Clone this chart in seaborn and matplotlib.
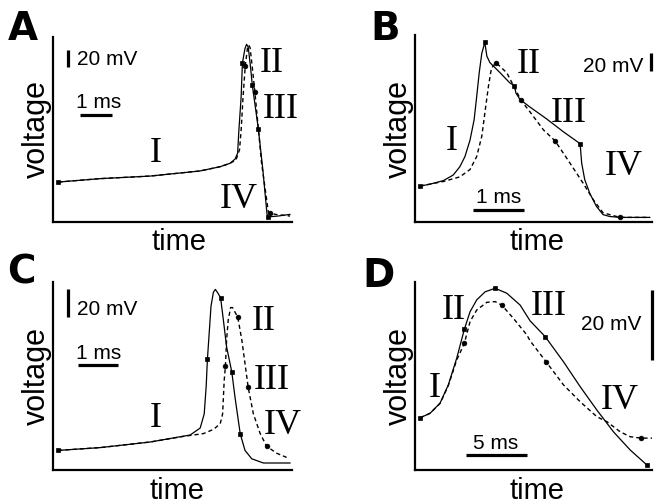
import matplotlib
matplotlib.use("Agg")
import matplotlib.pyplot as plt
import seaborn as sns

# Figure size in pixels (saved at dpi 100)
W, H = 659, 504

# ---- Panel A: time in ms, voltage in mV above the axis floor
A_t_solid = [0.17, 1.47, 3.03, 4.59, 5.22, 5.53, 5.69, 5.77, 5.81, 5.88, 5.92,
             6.00, 6.05, 6.10, 6.16, 6.23, 6.42, 6.56, 6.69, 6.72, 7.03, 7.41]
A_v_solid = [47, 51, 54, 60, 65, 69, 74, 81, 108, 147, 187,
             204, 209, 206, 187, 161, 109, 61, 9, 6, 7, 9]
A_sq = [0, 10, 15, 16, 19]
A_t_dash = [0.17, 1.47, 3.03, 4.59, 5.22, 5.53, 5.72, 5.83, 5.88, 5.94, 6.01,
            6.08, 6.12, 6.16, 6.22, 6.31, 6.52, 6.73, 6.78, 6.94, 7.41]
A_v_dash = [47, 51, 54, 60, 65, 69, 73, 85, 108, 147, 184,
            205, 208, 205, 185, 153, 69, 12, 11, 9, 7]
A_ci = [10, 15, 18]

# ---- Panel B
B_t_solid = [0.10, 0.29, 0.56, 0.75, 0.88, 0.98, 1.08, 1.16, 1.21, 1.26, 1.31,
             1.37, 1.41, 1.47, 1.67, 1.86, 1.95, 1.98, 2.06, 2.25, 2.58, 2.91,
             3.24, 3.27, 3.33, 3.43, 3.56, 3.69, 3.82, 4.02, 4.61]
B_v_solid = [39, 41, 45, 51, 60, 71, 89, 111, 136, 162, 183,
             195, 180, 173, 162, 151, 148, 140, 133, 125, 112, 98,
             85, 64, 46, 31, 17, 8, 6, 5, 5]
B_sq = [0, 11, 16, 22]
B_t_dash = [0.10, 0.56, 0.88, 1.08, 1.21, 1.31, 1.37, 1.44, 1.50, 1.59, 1.80,
            1.99, 2.08, 2.25, 2.52, 2.75, 3.04, 3.30, 3.50, 3.69, 4.02, 4.61]
B_v_dash = [39, 44, 49, 57, 71, 93, 118, 147, 167, 173, 162,
            142, 132, 120, 100, 88, 64, 42, 24, 10, 5, 5]
B_ci = [9, 12, 15, 20]

# ---- Panel C
C_t_solid = [0.13, 1.18, 2.43, 3.43, 3.68, 3.78, 3.83, 3.86, 3.91, 3.95, 4.01,
             4.06, 4.13, 4.19, 4.26, 4.34, 4.47, 4.55, 4.68, 4.80, 4.97, 5.26, 5.93]
C_v_solid = [14, 16, 20, 25, 30, 40, 60, 79, 100, 117, 127,
             129, 126, 123, 107, 88, 70, 52, 26, 14, 8, 5, 5]
C_sq = [0, 7, 13, 16, 18]
C_t_dash = [0.13, 1.18, 2.43, 3.26, 3.76, 4.01, 4.18, 4.24, 4.28, 4.31, 4.34,
            4.38, 4.44, 4.49, 4.62, 4.72, 4.80, 4.88, 5.01, 5.18, 5.34, 5.59, 5.84]
C_v_dash = [14, 16, 20, 24, 26, 29, 33, 40, 64, 74, 93,
            107, 116, 116, 109, 93, 76, 59, 40, 26, 17, 12, 9]
C_ci = [9, 14, 17, 20]

# ---- Panel D
D_t_solid = [0.41, 1.24, 2.06, 2.74, 3.43, 4.06, 4.53, 5.08, 5.77, 6.59,
             7.55, 8.65, 9.47, 10.71, 12.22, 13.59, 14.97, 16.33, 17.71, 19.09]
D_v_solid = [14.9, 16.2, 19.1, 24.3, 31.9, 40.2, 45.2, 48.6, 50.9, 51.9,
             50.5, 47.1, 42.6, 38.1, 30.9, 23.8, 17.1, 10.9, 5.7, 1.4]
D_sq = [0, 5, 9, 13, 19]
D_t_dash = [0.41, 1.24, 2.06, 2.74, 3.43, 4.06, 4.53, 5.08, 5.91, 6.59, 7.14,
            8.10, 9.20, 9.47, 10.79, 12.22, 13.59, 14.97, 15.79, 16.89, 17.71,
            18.62, 19.50]
D_v_dash = [14.9, 16.2, 19.0, 24.1, 31.4, 36.2, 42.4, 45.7, 47.9, 48.1, 47.1,
            43.3, 38.6, 36.9, 30.9, 24.3, 19.5, 15.2, 13.8, 10.9, 9.5, 9.1, 9.1]
D_ci = [5, 10, 14, 21]

NUMERALS = ["I", "II", "III", "IV"]


def px_text(fig, x, y, s, **kw):
    """Place text using pixel coordinates measured from the top-left."""
    kw.setdefault("color", "black")
    fig.text(x / W, 1 - y / H, s, **kw)


def draw_panel(fig, p):
    x0, y0, x1, y1 = p["rect"]
    ax = fig.add_axes([x0 / W, 1 - y1 / H, (x1 - x0) / W, (y1 - y0) / H])

    t, v, sq = p["solid"]
    sns.lineplot(x=t, y=v, ax=ax, color="black", linewidth=0.9, sort=False,
                 errorbar=None, marker="s", markersize=3.4, markevery=sq,
                 markeredgecolor="black", markeredgewidth=0.5, clip_on=False)
    t, v, ci = p["dash"]
    sns.lineplot(x=t, y=v, ax=ax, color="black", linewidth=1.0, sort=False,
                 errorbar=None, linestyle=(0, (3.0, 2.2)), marker="o",
                 markersize=3.4, markevery=ci, markeredgecolor="black",
                 markeredgewidth=0.5, clip_on=False)

    ax.set_xlim(*p["xlim"])
    ax.set_ylim(*p["ylim"])
    ax.set_xticks([])
    ax.set_yticks([])
    ax.set_xlabel("")
    ax.set_ylabel("")
    sns.despine(ax=ax)
    for side in ["left", "bottom"]:
        ax.spines[side].set_linewidth(1.6)
        ax.spines[side].set_color("black")

    # scale bars (in data units: ms and mV)
    ta, tb, tv = p["tbar"]
    ax.plot([ta, tb], [tv, tv], color="black", lw=2.3, clip_on=False,
            solid_capstyle="butt")
    vt, va, vb = p["vbar"]
    ax.plot([vt, vt], [va, vb], color="black", lw=2.3, clip_on=False,
            solid_capstyle="butt")

    # texts
    lx, ly = p["letter"]
    px_text(fig, lx, ly, p["key"], ha="center", va="baseline",
            fontsize=28, fontweight="bold", family="DejaVu Sans")
    for s, (nx, ny) in zip(NUMERALS, p["numerals"]):
        px_text(fig, nx, ny, s, ha="center", va="baseline", fontsize=26,
                family="Liberation Serif")
    sx, sy, sha = p["mv_text"]
    px_text(fig, sx, sy, "20 mV", ha=sha, va="baseline", fontsize=15)
    mx, my = p["ms_text"]
    px_text(fig, mx, my, p["ms_label"], ha="center", va="baseline", fontsize=15)
    tx, ty = p["time_pos"]
    px_text(fig, tx, ty, "time", ha="center", va="baseline", fontsize=21)
    vx = p["volt_x"]
    px_text(fig, vx, (y0 + y1) / 2, "voltage", ha="center", va="center",
            rotation=90, fontsize=22)


def main():
    sns.set_style("white")
    plt.rcParams["font.family"] = ["Liberation Sans", "DejaVu Sans"]
    plt.rcParams["text.color"] = "black"

    fig = plt.figure(figsize=(W / 100, H / 100), dpi=100)

    panels = [
        dict(key="A", rect=(53, 37, 292, 222),
             solid=(A_t_solid, A_v_solid, A_sq), dash=(A_t_dash, A_v_dash, A_ci),
             xlim=(0, 7.47), ylim=(0, 217.6),
             tbar=(0.84, 1.84, 125.9), vbar=(0.48, 182.4, 202.4),
             letter=(22.5, 40),
             numerals=[(155.7, 161.7), (271.7, 71.7), (280.7, 118.3), (239, 208.3)],
             mv_text=(77, 65, "left"), ms_text=(98.5, 108.3), ms_label="1 ms",
             time_pos=(179, 250), volt_x=37),
        dict(key="B", rect=(415, 35, 652, 222),
             solid=(B_t_solid, B_v_solid, B_sq), dash=(B_t_dash, B_v_dash, B_ci),
             xlim=(0, 4.65), ylim=(0, 203),
             tbar=(1.14, 2.14, 13), vbar=(4.64, 163.4, 183.4),
             letter=(385, 40),
             numerals=[(451.7, 150), (528.3, 73.3), (568.3, 121.7), (623.3, 175)],
             mv_text=(643, 71.7, "right"), ms_text=(498.8, 203.3), ms_label="1 ms",
             time_pos=(537.5, 250), volt_x=399),
        dict(key="C", rect=(53, 282, 292, 470),
             solid=(C_t_solid, C_v_solid, C_sq), dash=(C_t_dash, C_v_dash, C_ci),
             xlim=(0, 5.975), ylim=(0, 134.3),
             tbar=(0.63, 1.63, 74.8), vbar=(0.38, 109.3, 129.3),
             letter=(21, 283.7),
             numerals=[(155.7, 427), (264, 330.3), (271.7, 388.7), (282.7, 433.7)],
             mv_text=(77.3, 315.3, "left"), ms_text=(99, 358.7), ms_label="1 ms",
             time_pos=(177.5, 498.7), volt_x=37),
        dict(key="D", rect=(415, 282, 652, 470),
             solid=(D_t_solid, D_v_solid, D_sq), dash=(D_t_dash, D_v_dash, D_ci),
             xlim=(0, 19.5), ylim=(0, 53.7),
             tbar=(4.2, 9.2, 4.4), vbar=(19.5, 31.3, 51.3),
             letter=(379, 287),
             numerals=[(435, 397), (454, 318.7), (548.3, 315.3), (619.3, 408.7)],
             mv_text=(641.7, 330.3, "right"), ms_text=(496, 448.7), ms_label="5 ms",
             time_pos=(537.5, 498.7), volt_x=399),
    ]

    for p in panels:
        draw_panel(fig, p)

    fig.savefig("out.png", dpi=100)
    plt.close(fig)


if __name__ == "__main__":
    main()
